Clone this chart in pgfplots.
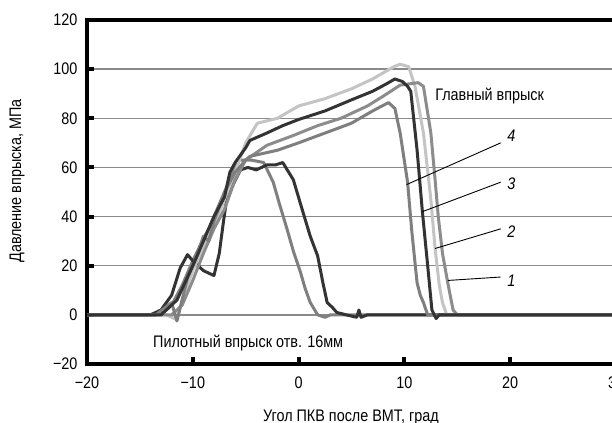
\documentclass[border=0pt]{standalone}
\usepackage{pgfplots}
\pgfplotsset{compat=1.18}
\usepackage{fontspec}
\setmainfont{Liberation Sans}[FakeStretch=0.86]
\definecolor{cdark}{HTML}{333333}
\definecolor{cmed}{HTML}{7f7f7f}
\definecolor{cmed2}{HTML}{8c8c8c}
\definecolor{clight}{HTML}{c4c4c4}
\definecolor{cgrid}{HTML}{8a8a8a}
\newcommand{\fs}{\fontsize{16.8}{19}\selectfont}
\begin{document}
\begin{tikzpicture}
\begin{axis}[
  name=ax,
  scale only axis,
  width=529bp, height=344bp,
  xmin=-20, xmax=30, ymin=-20, ymax=120,
  axis line style={line width=4.5bp, black},
  xtick={-20,-10,0,10,20,30},
  xticklabels={−20,−10,0,10,20,30},
  ytick={-20,0,20,40,60,80,100,120},
  yticklabels={−20,0,20,40,60,80,100,120},
  xtick pos=bottom, ytick pos=left,
  tick align=inside,
  major tick length=7bp,
  every tick/.style={line width=4bp, black},
  ymajorgrids,
  grid style={cgrid, line width=1.4bp},
  tick label style={font=\fs},
  yticklabel style={xshift=-6bp},
  xticklabel style={yshift=-9bp},
  clip=true,
  every axis plot/.style={line width=3bp, line join=round},
]
% pilot, medium gray
\addplot[cmed] coordinates {(-20,0) (-13.5,0) (-12.5,2) (-12,4) (-11,12) (-10,22) (-9,31) (-8.5,35) (-8,40) (-7,50) (-6.3,57) (-5.8,63) (-4.5,63) (-3.3,62) (-2.4,54) (-1.8,45) (-1.1,35) (-0.5,26) (0.2,17) (0.6,11) (1.1,5) (1.8,0) (2.5,-1) (3,0) (30,0)};
% pilot, dark
\addplot[cdark] coordinates {(-20,0) (-14,0) (-13,2) (-12,8) (-11.2,19) (-10.5,24.5) (-10,22) (-9,18) (-8,16) (-7.5,25) (-7.1,38) (-6.8,47) (-6.2,53) (-5.5,59) (-4.8,60) (-4,59) (-3,61) (-2.2,61) (-1.5,62) (-0.5,55) (0.4,42) (1.1,32) (1.8,24) (2.3,13) (2.7,5) (3.2,3) (3.6,1) (4.5,0) (5.5,-1) (5.7,2) (5.9,-1) (6.5,0) (30,0)};
% curve 2, light
\addplot[clight] coordinates {(-20,0) (-12.5,0) (-11.5,-2) (-11,6) (-10,18) (-9,28) (-8,36) (-7,47) (-6,58) (-5,70) (-3.9,78) (-2,80) (0,85) (2.5,88) (5,92) (7,96) (9,101) (9.6,102) (10.4,101) (11,93) (11.8,74) (12.5,47) (12.9,27) (13.3,12) (13.6,5) (14,0) (30,0)};
% curve 1, medium gray right
\addplot[cmed2] coordinates {(-20,0) (-12,0) (-11,4) (-10,14) (-9,25) (-8,35) (-7,43) (-6,55) (-5,63) (-3,69) (-0.5,73) (1.8,77) (4,80) (6.5,85) (8,89) (9.6,93.5) (11.3,94.5) (11.8,93) (12.5,74) (12.9,55) (13.2,40) (13.6,25) (14.1,13) (14.6,2) (15,0) (30,0)};
% curve 4, medium gray left
\addplot[cmed] coordinates {(-20,0) (-13.5,0) (-12,5) (-11.5,-2.5) (-10.5,15) (-9.5,25) (-9,32) (-8.5,30) (-8,38) (-7,50) (-6,58) (-5,63) (-4.6,64.5) (-2,67) (0,70) (2.5,74) (5,78) (7,83) (8.5,86.4) (9.1,84) (9.6,74) (10.3,54) (10.7,34) (11.2,13) (11.5,8) (11.8,5) (12.2,0) (30,0)};
% curve 3, dark
\addplot[cdark] coordinates {(-20,0) (-13,0) (-11.5,6) (-10,20) (-9,30) (-8,40) (-7,48) (-6.5,58) (-6,62) (-5,68) (-4.6,71) (-3,74) (-1.5,77) (0,79.5) (2.5,83) (5,87.5) (7,91) (8.3,94) (9.1,96) (9.8,95) (10.3,93) (10.6,91) (11.2,67) (11.7,42) (12.2,20) (12.6,2) (13,-1.5) (13.3,0) (30,0)};
% annotations
\draw[black, line width=0.9bp] (axis cs:19.1,70) -- (axis cs:10.2,53);
\draw[black, line width=0.9bp] (axis cs:19.1,54) -- (axis cs:11.7,42);
\draw[black, line width=0.9bp] (axis cs:19.1,35) -- (axis cs:12.9,27);
\draw[black, line width=0.9bp] (axis cs:19.1,15.4) -- (axis cs:14.1,14);
\node[font=\fs\itshape] at (axis cs:20.1,73) {4};
\node[font=\fs\itshape] at (axis cs:20.1,53.5) {3};
\node[font=\fs\itshape] at (axis cs:20.1,34) {2};
\node[font=\fs\itshape] at (axis cs:20.1,14) {1};
\node[anchor=west, font=\fs, inner sep=0pt] at (axis cs:12.9,89) {Главный впрыск};
\node[anchor=west, font=\fs, inner sep=0pt] at (axis cs:-13.76,-11.4) {Пилотный впрыск отв. 16мм};
\end{axis}
\path (ax.south west) ++(-70bp,183bp) node[rotate=90, font=\fs] {Давление впрыска, МПа};
\path (ax.south west) ++(264bp,-53bp) node[font=\fs] {Угол ПКВ после ВМТ, град};
\pgfresetboundingbox
\path (ax.south west) ++(-87bp,-59bp) rectangle ++(612bp,423bp);
\end{tikzpicture}
\end{document}
